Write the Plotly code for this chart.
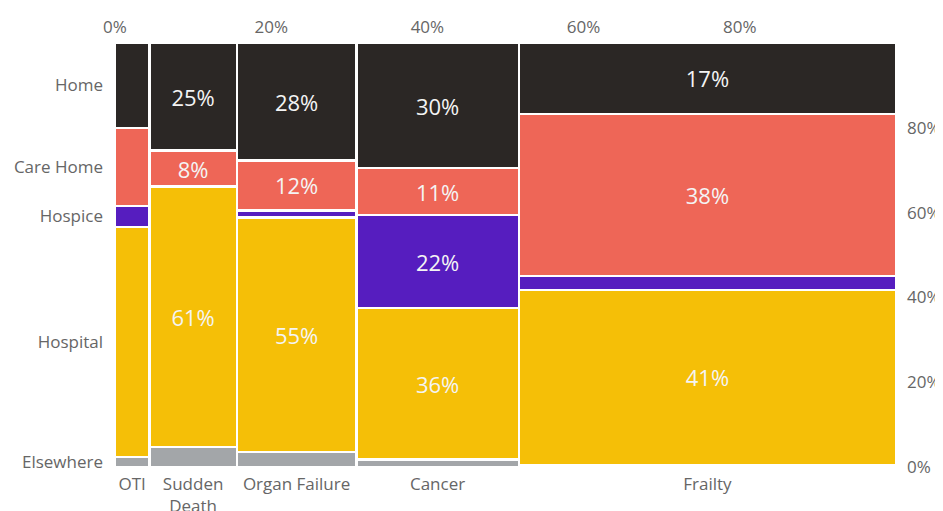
import plotly.graph_objects as go
import numpy as np

categories = ["OTI", "Sudden<br>Death", "Organ Failure", "Cancer", "Frailty"]
col_widths = [4.4, 11.2, 15.3, 20.8, 48.3]  # % share of deaths per condition

places = ["Elsewhere", "Hospital", "Hospice", "Care Home", "Home"]
elsewhere = [2.4, 4.7, 3.5, 1.8, 0.5]
hospital = [54.2, 61.4, 55.4, 35.7, 41.3]
hospice = [5.0, 0.0, 1.65, 21.9, 3.3]
care_home = [18.4, 8.5, 11.7, 11.1, 38.2]
home = [20.0, 25.4, 27.75, 29.5, 16.7]
series = [elsewhere, hospital, hospice, care_home, home]
colors = ["#A3A6A9", "#F5BF07", "#561DBF", "#EE6657", "#2B2725"]

top_ticks = [0, 20, 40, 60, 80]
right_ticks = [0, 20, 40, 60, 80]

widths = np.array(col_widths)
lefts = np.concatenate([[0], np.cumsum(widths)[:-1]])
centers = lefts + widths / 2

fig = go.Figure()
for name, vals, col in zip(places, series, colors):
    txt = [f"{round(v)}%" if (v >= 8 and w >= 10) else "" for v, w in zip(vals, col_widths)]
    fig.add_trace(go.Bar(
        x=centers, y=vals, width=widths, name=name,
        marker=dict(color=col, line=dict(color="white", width=2.5)),
        text=txt, textposition="inside", insidetextanchor="middle",
        constraintext="none",
        textfont=dict(color="#F4F4F4", size=22, family="Open Sans"),
        hoverinfo="skip",
    ))

# empty trace so the top / right percentage axes are drawn
fig.add_trace(go.Scatter(x=[], y=[], xaxis="x2", yaxis="y2", showlegend=False))

# left labels at OTI segment midpoints
oti_vals = [s[0] for s in series]
cum = np.cumsum(oti_vals)
mids = cum - np.array(oti_vals) / 2

font = dict(family="Open Sans", size=17, color="#666666")
common = dict(showgrid=False, zeroline=False, showline=False, ticks="",
              tickfont=font, automargin=False, fixedrange=True)
fig.update_layout(
    barmode="stack",
    width=935, height=503,
    margin=dict(l=107, r=47, t=35, b=44),
    plot_bgcolor="white", paper_bgcolor="white",
    showlegend=False,
    font=font,
    xaxis=dict(range=[0, 100], tickvals=list(centers), ticktext=categories,
               ticklabelstandoff=5, **common),
    xaxis2=dict(range=[0, 100], overlaying="x", side="top", anchor="y",
                tickvals=top_ticks, ticktext=[f"{t}%" for t in top_ticks],
                ticklabelstandoff=6, **common),
    yaxis=dict(range=[0, 100], tickvals=list(mids), ticktext=places,
               ticklabelstandoff=11, **common),
    yaxis2=dict(range=[0, 100], overlaying="y", side="right", anchor="x",
                tickvals=right_ticks, ticktext=[f"{t}%" for t in right_ticks],
                ticklabelstandoff=10, **common),
)

fig.write_html("out.html")
